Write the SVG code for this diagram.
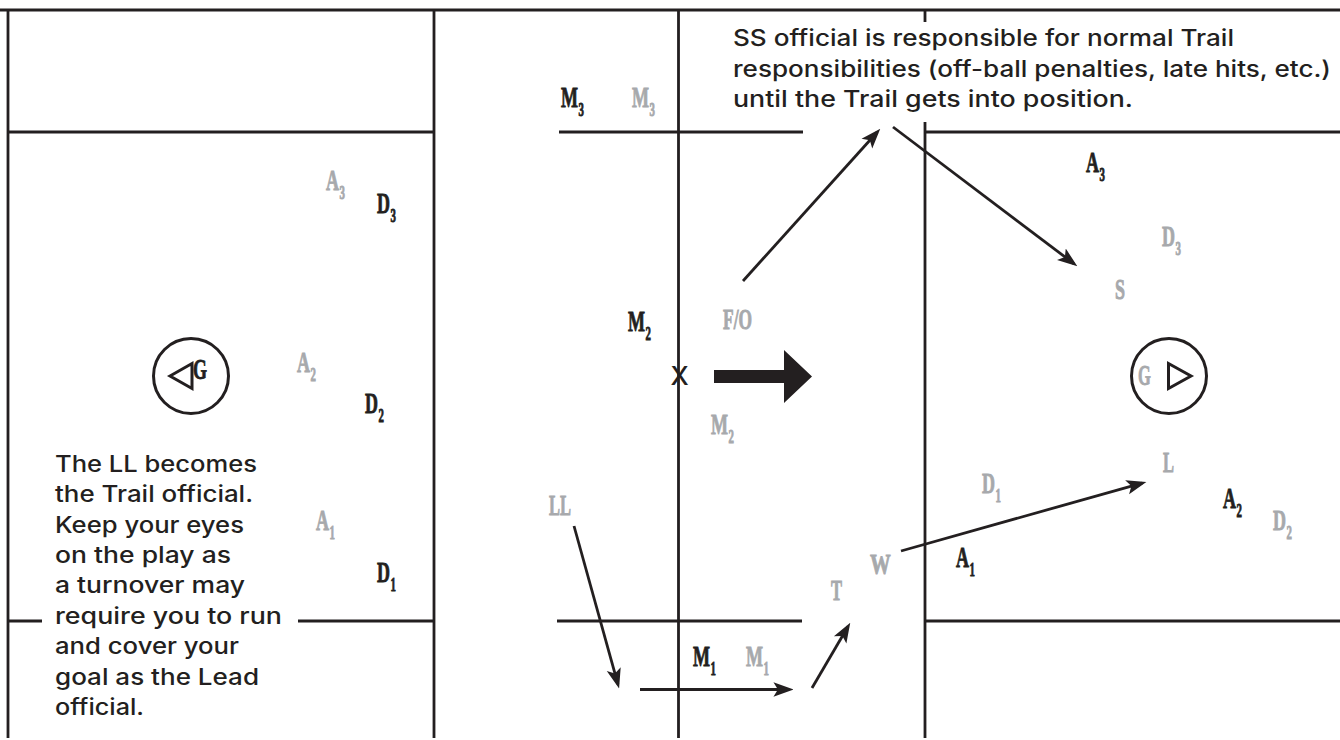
<svg xmlns="http://www.w3.org/2000/svg" width="1340" height="740" viewBox="0 0 1340 740">
<style>
.f{fill:none;stroke:#231f20;stroke-width:2.8}
.a{fill:none;stroke:#231f20;stroke-width:2.8;marker-end:url(#h)}
.s{fill:none;stroke:#231f20;stroke-width:3}
.t{font-family:"Inter","Liberation Sans",sans-serif;font-weight:500;font-size:22.5px;fill:#231f20}
.k,.g{font-family:"Liberation Serif",serif;font-weight:700;font-size:30px;stroke-width:.9}
.k{fill:#231f20;stroke:#231f20}.g{fill:#a7a9ac;stroke:#a7a9ac}
.n{font-size:18px}
</style>
<defs>
<marker id="h" markerUnits="userSpaceOnUse" markerWidth="20" markerHeight="16" viewBox="0 0 18 14" refX="14" refY="7" orient="auto"><path d="M0 0.500L18 7L0 13.500L4 7Z" fill="#231f20"/></marker>
</defs>
<rect width="1340" height="740" fill="#fff"/>
<g id="field">
<path class="f" d="M0 10H1340M8 10V738M434 10V738M678.500 10V738M925 10V22M925 122V738"/>
<path class="f" d="M8 132H434M559 132H803M925 132H1340M8 621H42M298 621H434M557 621H802M925 621H1340"/>
</g>
<g id="goal-left">
<circle class="s" cx="191" cy="376" r="37.500"/>
<path class="s" d="M170 376L192 363.500V388.500Z"/>
<text class="k" transform="translate(193 379) scale(.6 1)">G</text>
</g>
<g id="goal-right">
<circle class="s" cx="1169" cy="376" r="37.500"/>
<path class="s" d="M1168.500 363.500L1191 376L1168.500 388.500Z"/>
<text class="g" transform="translate(1138 385) scale(.55 1)">G</text>
</g>
<g id="connectors">
<path class="a" d="M574 526L617.900 684.100"/>
<path class="a" d="M640 689.500H789"/>
<path class="a" d="M812 688L848 626.500"/>
<path class="a" d="M901 551L1142.100 483.100"/>
<path class="a" d="M743 281L877.300 132"/>
<path class="a" d="M893 127L1073.800 263.600"/>
<path id="big-arrow" fill="#231f20" d="M714 370H784V350L812 376.500L784 403V383H714Z"/>
</g>
<g id="players-left">
<text class="g" transform="translate(326 190) scale(.6 1)">A<tspan class="n" dy="9" dx="1">3</tspan></text>
<text class="k" transform="translate(377 213) scale(.6 1)">D<tspan class="n" dy="9" dx="1">3</tspan></text>
<text class="g" transform="translate(297 372) scale(.6 1)">A<tspan class="n" dy="9" dx="1">2</tspan></text>
<text class="k" transform="translate(365 413) scale(.6 1)">D<tspan class="n" dy="9" dx="1">2</tspan></text>
<text class="g" transform="translate(316 530) scale(.6 1)">A<tspan class="n" dy="9" dx="1">1</tspan></text>
<text class="k" transform="translate(377 582) scale(.6 1)">D<tspan class="n" dy="9" dx="1">1</tspan></text>
</g>
<g id="players-middle">
<text class="k" transform="translate(561 107) scale(.6 1)">M<tspan class="n" dy="9" dx="1">3</tspan></text>
<text class="g" transform="translate(632 107) scale(.6 1)">M<tspan class="n" dy="9" dx="1">3</tspan></text>
<text class="k" transform="translate(628 331) scale(.6 1)">M<tspan class="n" dy="9" dx="1">2</tspan></text>
<text class="g" transform="translate(723 329) scale(.58 1)">F/O</text>
<text class="g" transform="translate(711 434) scale(.6 1)">M<tspan class="n" dy="9" dx="1">2</tspan></text>
<text class="g" transform="translate(549 515) scale(.55 1)">LL</text>
<text class="k" transform="translate(693 666) scale(.6 1)">M<tspan class="n" dy="9" dx="1">1</tspan></text>
<text class="g" transform="translate(746 666) scale(.6 1)">M<tspan class="n" dy="9" dx="1">1</tspan></text>
<text class="g" transform="translate(831 600) scale(.55 1)">T</text>
<text class="g" transform="translate(870 574) scale(.69 1)">W</text>
<text class="t" x="670.500" y="385" style="font-size:26px">X</text>
</g>
<g id="players-right">
<text class="g" transform="translate(982 493) scale(.6 1)">D<tspan class="n" dy="9" dx="1">1</tspan></text>
<text class="k" transform="translate(956 567) scale(.6 1)">A<tspan class="n" dy="9" dx="1">1</tspan></text>
<text class="k" transform="translate(1086 172) scale(.6 1)">A<tspan class="n" dy="9" dx="1">3</tspan></text>
<text class="g" transform="translate(1162 246) scale(.6 1)">D<tspan class="n" dy="9" dx="1">3</tspan></text>
<text class="g" transform="translate(1115 299) scale(.6 1)">S</text>
<text class="g" transform="translate(1163 472) scale(.55 1)">L</text>
<text class="k" transform="translate(1223 508) scale(.6 1)">A<tspan class="n" dy="9" dx="1">2</tspan></text>
<text class="g" transform="translate(1273 530) scale(.6 1)">D<tspan class="n" dy="9" dx="1">2</tspan></text>
</g>
<g id="note-top">
<text class="t" x="733" y="46" textLength="501" lengthAdjust="spacingAndGlyphs">SS official is responsible for normal Trail</text>
<text class="t" x="733" y="77" textLength="598" lengthAdjust="spacingAndGlyphs">responsibilities (off-ball penalties, late hits, etc.)</text>
<text class="t" x="733" y="107" textLength="400" lengthAdjust="spacingAndGlyphs">until the Trail gets into position.</text>
</g>
<g id="note-left">
<text class="t" x="55" y="472" textLength="202" lengthAdjust="spacingAndGlyphs">The LL becomes</text>
<text class="t" x="55" y="502" textLength="198" lengthAdjust="spacingAndGlyphs">the Trail official.</text>
<text class="t" x="55" y="533" textLength="189" lengthAdjust="spacingAndGlyphs">Keep your eyes</text>
<text class="t" x="55" y="563" textLength="176" lengthAdjust="spacingAndGlyphs">on the play as</text>
<text class="t" x="55" y="593" textLength="190" lengthAdjust="spacingAndGlyphs">a turnover may</text>
<text class="t" x="55" y="624" textLength="227" lengthAdjust="spacingAndGlyphs">require you to run</text>
<text class="t" x="55" y="654" textLength="184" lengthAdjust="spacingAndGlyphs">and cover your</text>
<text class="t" x="55" y="685" textLength="204" lengthAdjust="spacingAndGlyphs">goal as the Lead</text>
<text class="t" x="55" y="715" textLength="89" lengthAdjust="spacingAndGlyphs">official.</text>
</g>
</svg>
